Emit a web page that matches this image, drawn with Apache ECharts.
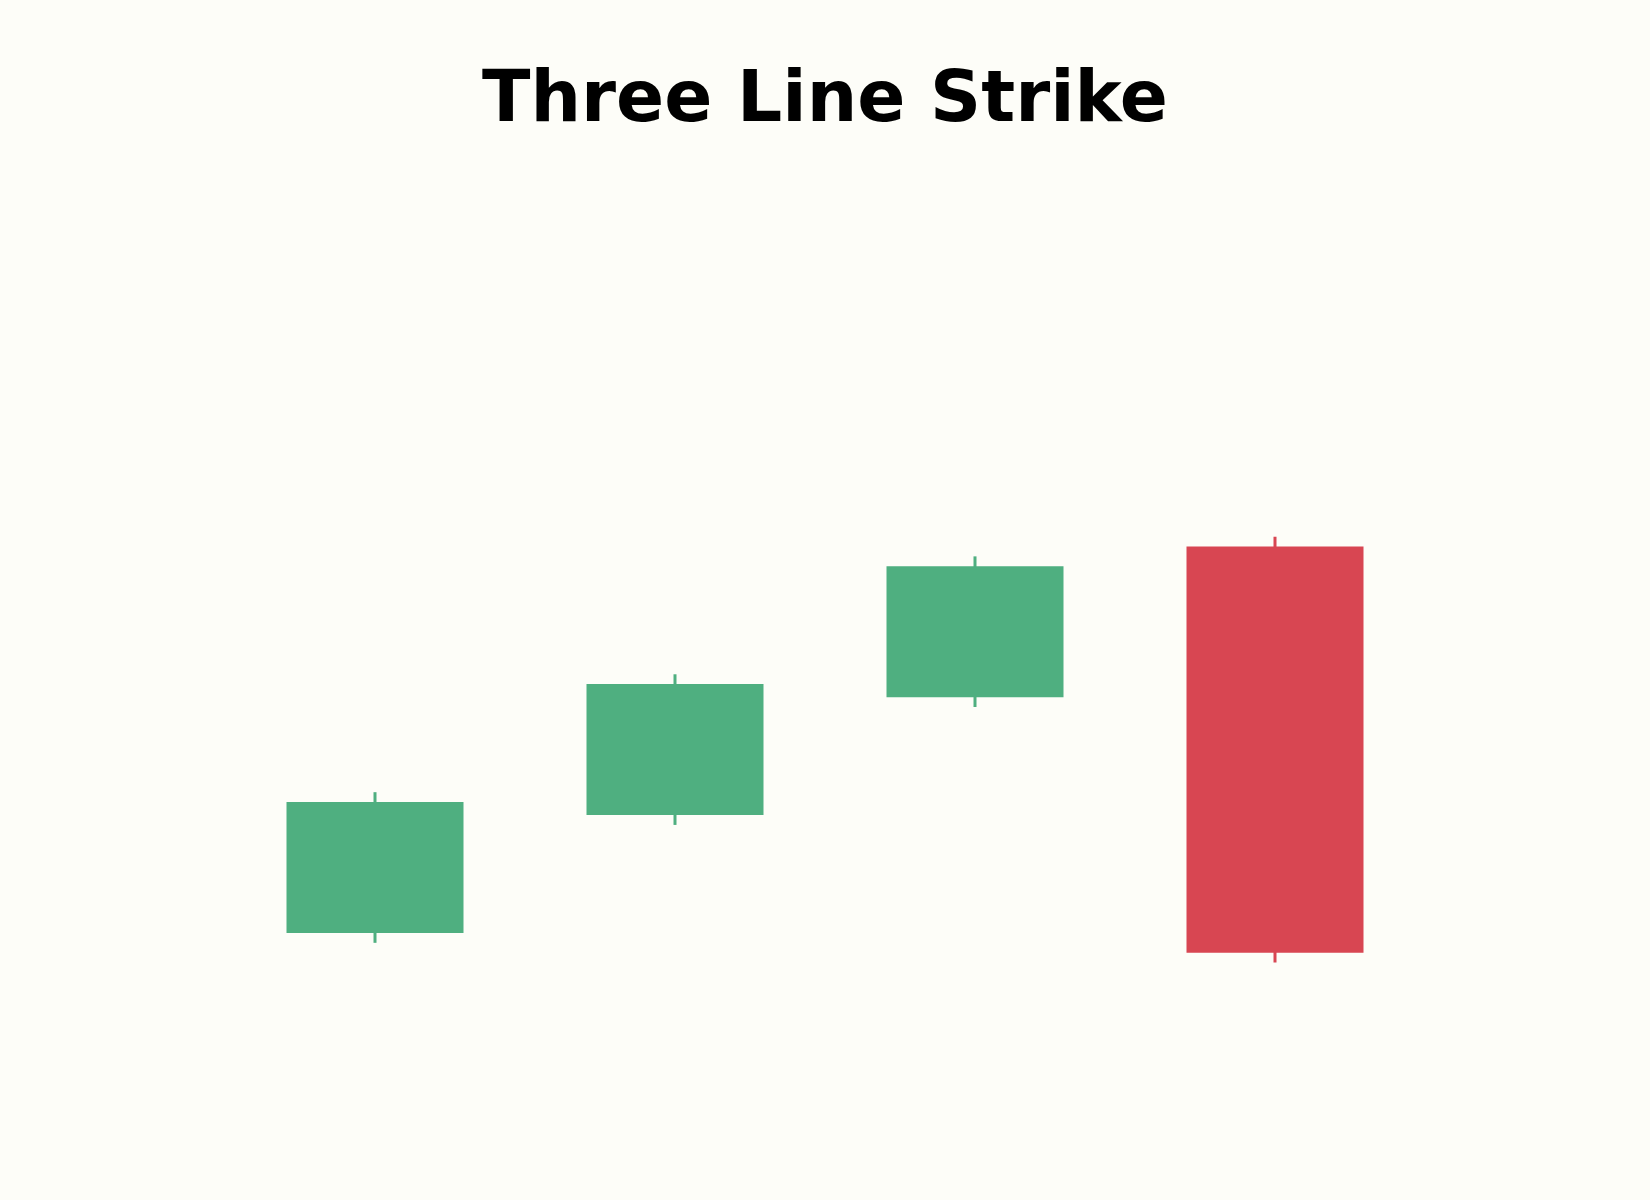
<!DOCTYPE html>
<html>
<head>
<meta charset="utf-8">
<script src="https://cdn.jsdelivr.net/npm/echarts@6/dist/echarts.min.js"></script>
<style>
html,body{margin:0;padding:0;background:#fdfdf8;}
#chart{width:1650px;height:1200px;}
</style>
</head>
<body>
<div id="chart"></div>
<script>
const categories = ['1', '2', '3', '4'];
const openValues  = [100, 109, 118, 129.5];
const closeValues = [110, 119, 128, 98.5];
const lowValues   = [99.25, 108.25, 117.25, 97.75];
const highValues  = [110.75, 119.75, 128.75, 130.25];

const upColor = '#4faf80';
const downColor = '#d84652';

const bodyData = categories.map((c, i) => [openValues[i], closeValues[i], lowValues[i], highValues[i]]);
// wick drawn as a thin candle spanning low..high, same direction as its body
const wickData = categories.map((c, i) => closeValues[i] >= openValues[i]
  ? [lowValues[i], highValues[i], lowValues[i], highValues[i]]
  : [highValues[i], lowValues[i], lowValues[i], highValues[i]]);

const chart = echarts.init(document.getElementById('chart'));
chart.setOption({
  animation: false,
  backgroundColor: '#fdfdf8',
  title: {
    text: 'Three Line Strike',
    left: 'center',
    top: 62,
    textStyle: { fontFamily: 'DejaVu Sans', fontWeight: 'bold', fontSize: 71, color: '#000000' }
  },
  tooltip: { show: false },
  grid: { left: 225, right: 225, top: 409, bottom: 136 },
  xAxis: {
    type: 'category',
    data: categories,
    boundaryGap: true,
    show: false
  },
  yAxis: {
    type: 'value',
    min: 90,
    max: 140,
    show: false,
    splitLine: { show: false }
  },
  series: [{
    type: 'candlestick',
    name: 'wick',
    data: wickData,
    barWidth: 4,
    z: 1,
    itemStyle: {
      color: upColor,
      color0: downColor,
      borderColor: upColor,
      borderColor0: downColor,
      borderWidth: 0
    }
  }, {
    type: 'candlestick',
    name: 'body',
    data: bodyData,
    barWidth: 178,
    z: 2,
    itemStyle: {
      color: upColor,
      color0: downColor,
      borderColor: upColor,
      borderColor0: downColor,
      borderWidth: 0
    }
  }]
});
</script>
</body>
</html>
